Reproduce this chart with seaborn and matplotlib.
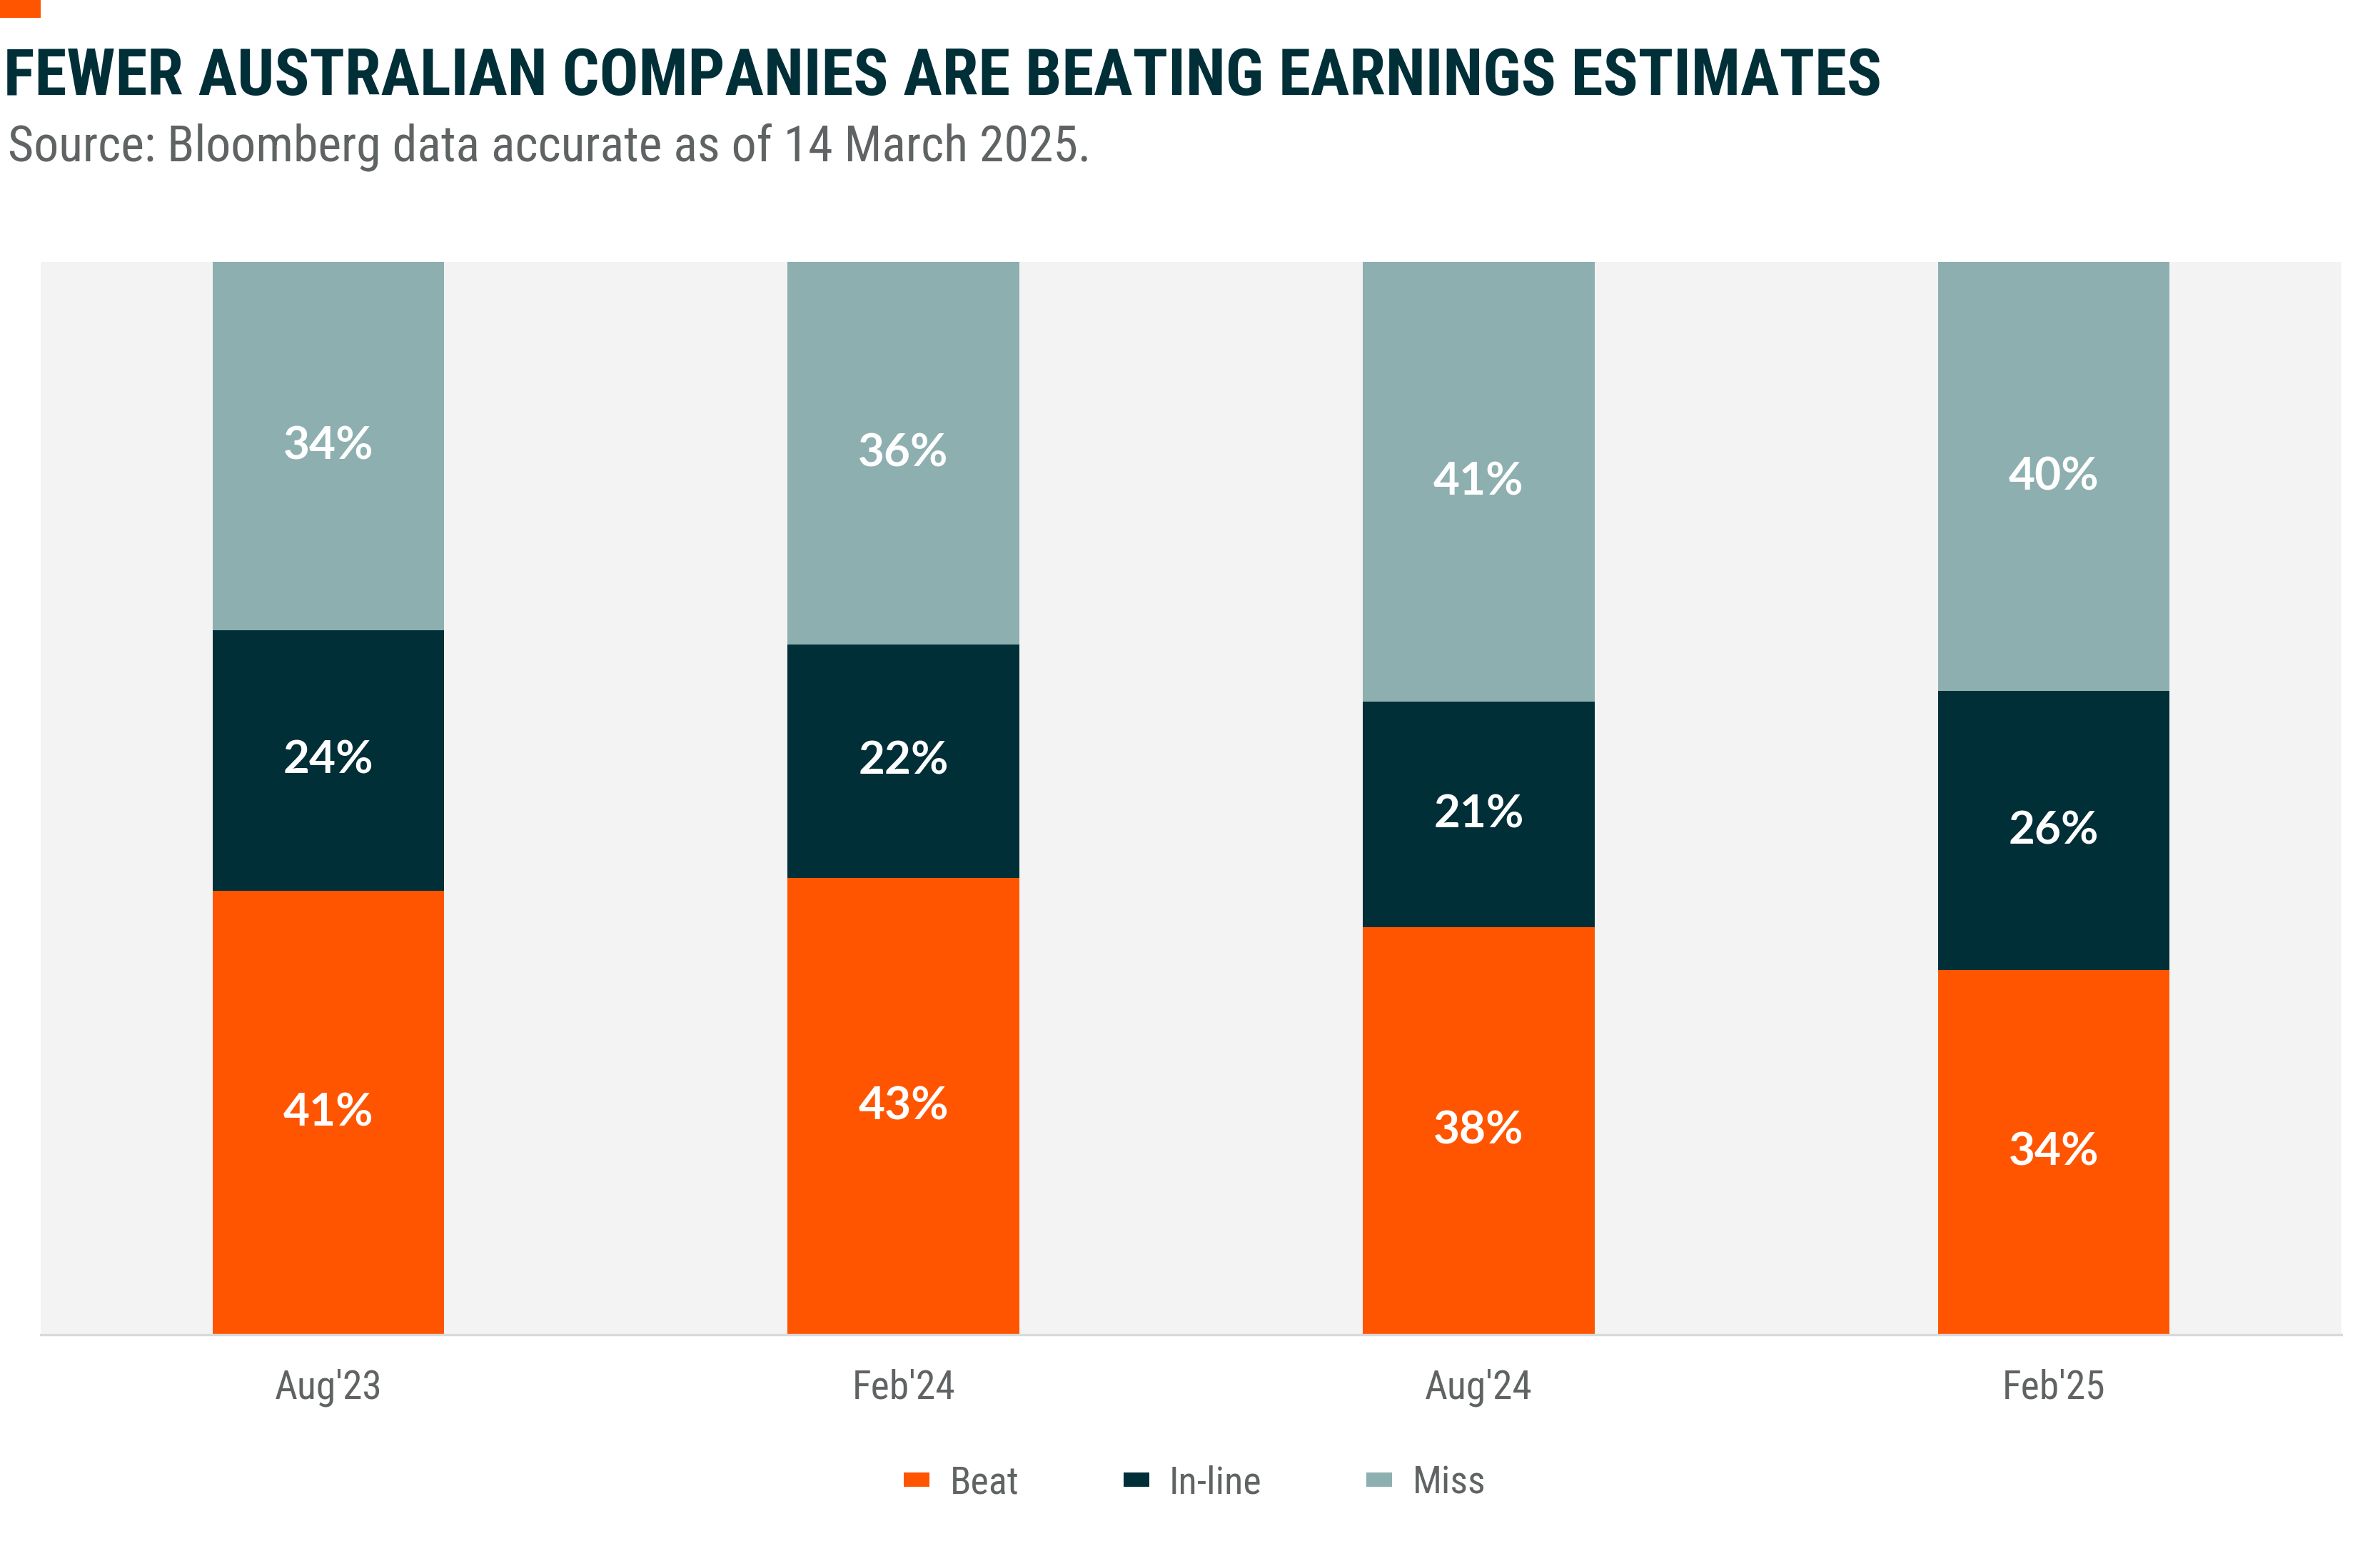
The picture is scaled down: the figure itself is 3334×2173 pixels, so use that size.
import numpy as np
import pandas as pd
import matplotlib
matplotlib.use("Agg")
import matplotlib.pyplot as plt
import seaborn as sns
from matplotlib import font_manager as fm
from matplotlib.patches import Patch, Rectangle

# ---- data ----
periods = ["Aug'23", "Feb'24", "Aug'24", "Feb'25"]
series_names = ["Beat", "In-line", "Miss"]
beat = [41, 43, 38, 34]
inline = [24, 22, 21, 26]
miss = [34, 36, 41, 40]
series_colors = ["#FF5500", "#002F38", "#8DAFAF"]

title = "FEWER AUSTRALIAN COMPANIES ARE BEATING EARNINGS ESTIMATES"
subtitle = "Source: Bloomberg data accurate as of 14 March 2025."

# ---- fonts ----
sns.set_theme(style="white")
avail = {f.name for f in fm.fontManager.ttflist}


def pick(cands):
    for c in cands:
        if c in avail:
            return c
    return "DejaVu Sans"


narrow_cands = ["Liberation Sans Narrow", "Roboto Condensed", "Open Sans Condensed",
                "Noto Sans Condensed", "Noto Sans SemiCondensed", "DejaVu Sans Condensed"]
narrow_cands += sorted(n for n in avail if ("Condensed" in n or "Narrow" in n))
NARROW = pick(narrow_cands + ["Roboto"])
LABELF = pick(["Lato", "Open Sans", "Roboto"])
plt.rcParams["font.family"] = [NARROW, "DejaVu Sans"]

TITLE_C = "#002F38"
GREY = "#5F6363"

# ---- frame ----
df = pd.DataFrame({"period": periods, "Beat": beat, "In-line": inline, "Miss": miss})
total = df[series_names].sum(axis=1)
share = df[series_names].div(total, axis=0)
cum = share.cumsum(axis=1)

W, H, DPI = 3334, 2173, 200
fig = plt.figure(figsize=(W / DPI, H / DPI), dpi=DPI)
fig.patch.set_facecolor("white")
ax = fig.add_axes([57 / W, 1 - 1870 / H, (3280 - 57) / W, (1870 - 367) / H])
ax.set_facecolor("#F3F3F3")

# draw cumulative stacks from the top segment down
for name, color in reversed(list(zip(series_names, series_colors))):
    plot_df = pd.DataFrame({"period": periods, "value": cum[name].values})
    sns.barplot(data=plot_df, x="period", y="value", order=periods, color=color,
                saturation=1, width=0.403, errorbar=None, linewidth=0, ax=ax)

# segment labels
for name in series_names:
    for i, p in enumerate(periods):
        top = cum[name].iloc[i]
        h = share[name].iloc[i]
        ax.text(i, top - h / 2, f"{df[name].iloc[i]}%", ha="center", va="center",
                color="white", fontsize=23, fontweight="bold", family=[LABELF, "DejaVu Sans"])

ax.set_xlim(-0.5, len(periods) - 0.5)
ax.set_ylim(0, 1)
ax.set_yticks([])
ax.set_xlabel("")
ax.set_ylabel("")
ax.tick_params(axis="x", length=0, pad=17, labelsize=20, labelcolor=GREY)
for s in ["top", "right", "left"]:
    ax.spines[s].set_visible(False)
ax.spines["bottom"].set_color("#D9D9D9")
ax.spines["bottom"].set_linewidth(1.2)

# legend
handles = [Patch(facecolor=c, edgecolor="none", label=n) for n, c in zip(series_names, series_colors)]
leg = fig.legend(handles=handles, loc="center", bbox_to_anchor=(0.502, 1 - 2078 / H), ncol=3,
                 frameon=False, fontsize=19.5, handlelength=0.67, handleheight=0.2,
                 handletextpad=0.52, columnspacing=2.7)
for t in leg.get_texts():
    t.set_color(GREY)

# header
fig.add_artist(Rectangle((0, 1 - 25 / H), 57 / W, 25 / H, transform=fig.transFigure,
                         facecolor="#FF5500", edgecolor="none"))
t1 = fig.text(5 / W, 1 - 133 / H, title, fontsize=33, fontweight="bold", color=TITLE_C, va="baseline")
t2 = fig.text(11 / W, 1 - 225 / H, subtitle, fontsize=26, color=GREY, va="baseline")

# fit header widths to reference
fig.canvas.draw()
r = fig.canvas.get_renderer()
for t, target in [(t1, 2630), (t2, 1523)]:
    w = t.get_window_extent(r).width
    if w > target:
        t.set_fontsize(t.get_fontsize() * target / w)

fig.savefig("out.png", dpi=DPI)
